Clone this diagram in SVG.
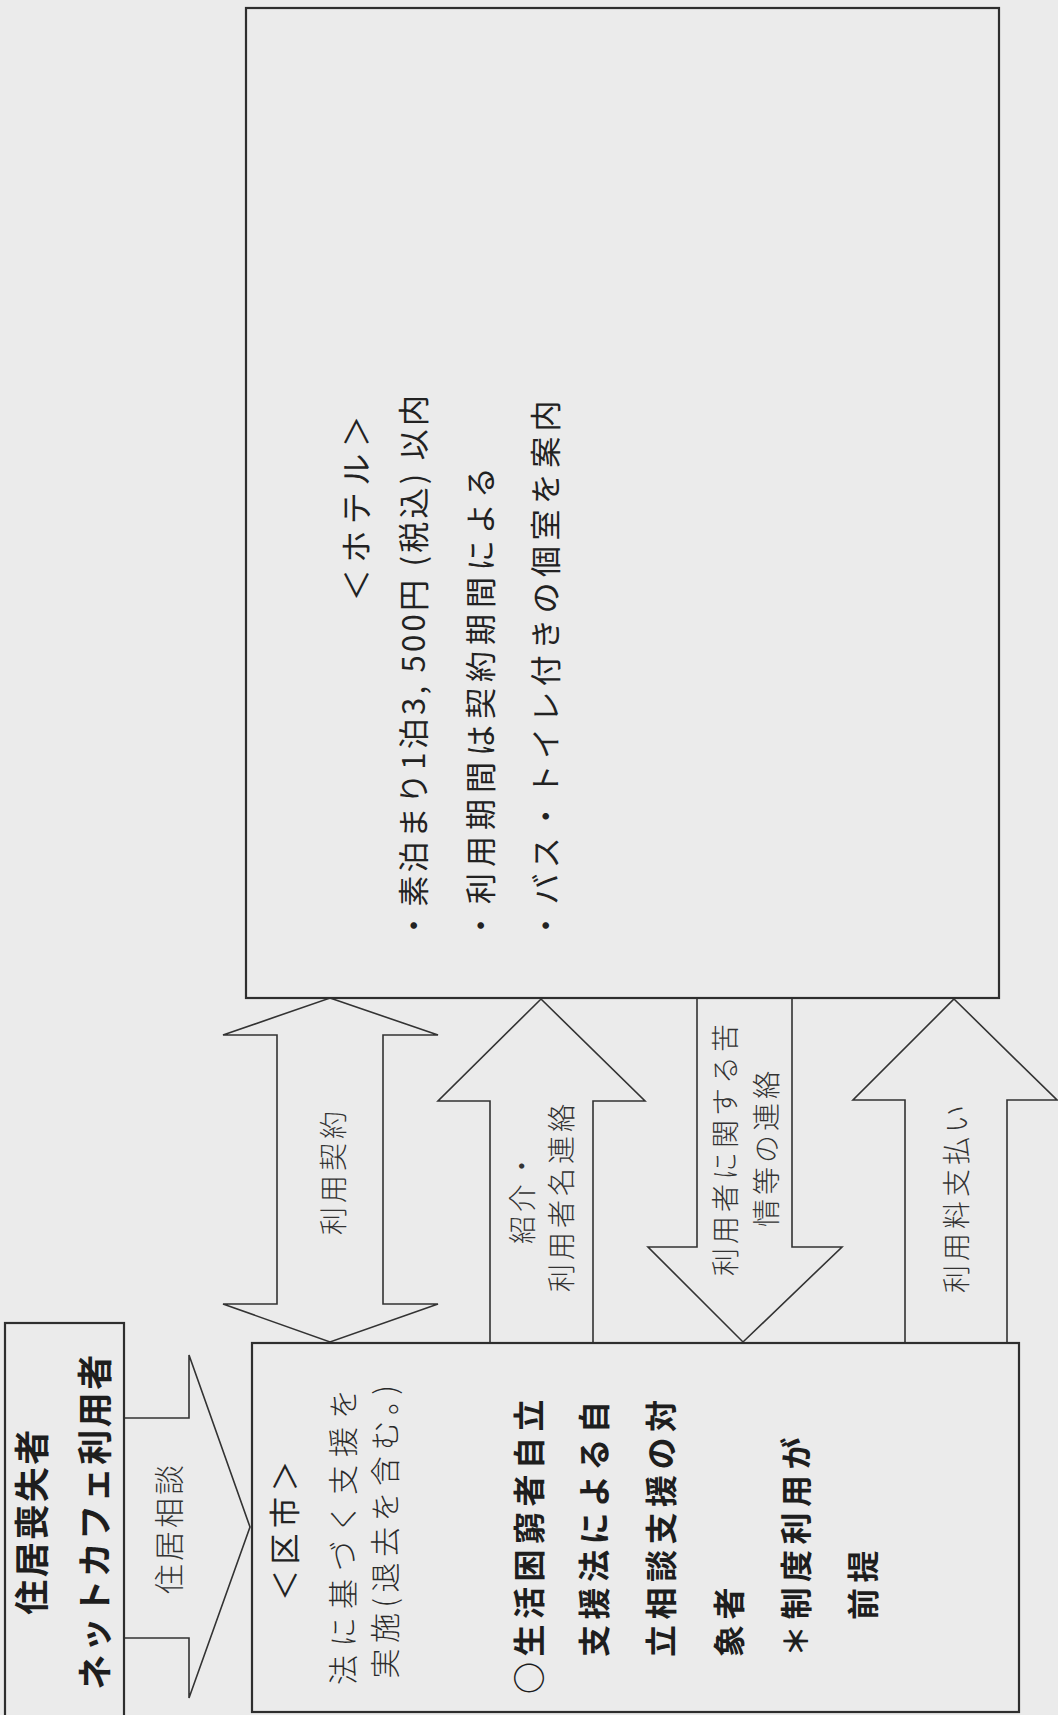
<svg xmlns="http://www.w3.org/2000/svg" width="1058" height="1715" viewBox="0 0 1058 1715">
<style>
text{font-family:"Noto Sans CJK JP","Noto Sans CJK SC",sans-serif;dominant-baseline:central}
.box{fill:none;stroke:#2e2e2e;stroke-width:2.2}
.arr{fill:none;stroke:#333;stroke-width:1.6;stroke-linejoin:miter}
.b{font-weight:bold;fill:#1e1e1e}
.h{font-size:35px;letter-spacing:2.5px}
.w{font-size:32px;letter-spacing:5.5px}
.t{font-size:30px;fill:#2a2a2a;font-weight:300}
.hot{font-size:31px;fill:#222}
.lab{font-size:28px;letter-spacing:4px;fill:#333;font-weight:300;text-anchor:middle}
.m{text-anchor:middle}
</style>
<rect width="1058" height="1715" fill="#ebebeb"/>

<g id="connectors">
<polygon id="c-consult" class="arr" points="124,1418 189,1418 189,1355 250,1527 189,1698 189,1638 124,1638"/>
<polygon id="c-contract" class="arr" points="330,998 438,1035 383,1035 383,1304 438,1304 330,1342 223,1304 277,1304 277,1035 223,1035"/>
<polygon id="c-intro" class="arr" points="541,999 645,1101 593,1101 593,1343 490,1343 490,1101 438,1101"/>
<polygon id="c-complaint" class="arr" points="697,998 697,1247 648,1247 743,1342 842,1247 792,1247 792,998"/>
<polygon id="c-pay" class="arr" points="954,999 1057,1100 1007,1100 1007,1343 905,1343 905,1100 853,1100"/>
<text class="lab" transform="translate(167,1528) rotate(-90)" style="font-size:30px;letter-spacing:3px">住居相談</text>
<text class="lab" transform="translate(332,1171) rotate(-90)">利用契約</text>
<text class="lab" transform="translate(521,1196) rotate(-90)">紹介・</text>
<text class="lab" transform="translate(560,1196) rotate(-90)">利用者名連絡</text>
<text class="lab" transform="translate(724,1148) rotate(-90)">利用者に関する苦</text>
<text class="lab" transform="translate(765,1147) rotate(-90)">情等の連絡</text>
<text class="lab" transform="translate(955,1197) rotate(-90)">利用料支払い</text>
</g>

<g id="user">
<rect class="box" x="5" y="1323" width="119" height="420"/>
<text class="b h m" transform="translate(29,1521) rotate(-90)">住居喪失者</text>
<text class="b h m" transform="translate(92,1521) rotate(-90)">ネットカフェ利用者</text>
</g>

<g id="hotel">
<rect class="box" x="246" y="8" width="753" height="990"/>
<text class="hot m" transform="translate(354,505) rotate(-90)" style="font-size:32px;letter-spacing:6.5px">＜ホテル＞</text>
<text class="hot" transform="translate(411,941) rotate(-90)" textLength="546" lengthAdjust="spacing">・素泊まり1泊3, 500円 (税込) 以内</text>
<text class="hot" transform="translate(478,941) rotate(-90)" style="letter-spacing:6px">・利用期間は契約期間による</text>
<text class="hot" transform="translate(543,941) rotate(-90)" style="letter-spacing:5.4px">・バス・トイレ付きの個室を案内</text>
</g>

<g id="city">
<rect class="box" x="252" y="1343" width="767" height="369"/>
<text class="m" transform="translate(282,1528) rotate(-90)" style="font-size:31px;letter-spacing:5.5px;fill:#222">＜区市＞</text>
<text class="t m" transform="translate(341,1533) rotate(-90)" style="letter-spacing:8px">法に基づく支援を</text>
<text class="t m" transform="translate(383,1529) rotate(-90)" style="letter-spacing:5.5px">実施(退去を含む。)</text>
<text class="b w" transform="translate(527,1694) rotate(-90)">○生活困窮者自立</text>
<text class="b w" transform="translate(592,1657) rotate(-90)">支援法による自</text>
<text class="b w" transform="translate(659,1657) rotate(-90)">立相談支援の対</text>
<text class="b w" transform="translate(727,1657) rotate(-90)">象者</text>
<text class="b w" transform="translate(794,1657) rotate(-90)">＊制度利用が</text>
<text class="b w" transform="translate(861,1620) rotate(-90)">前提</text>
</g>
</svg>
